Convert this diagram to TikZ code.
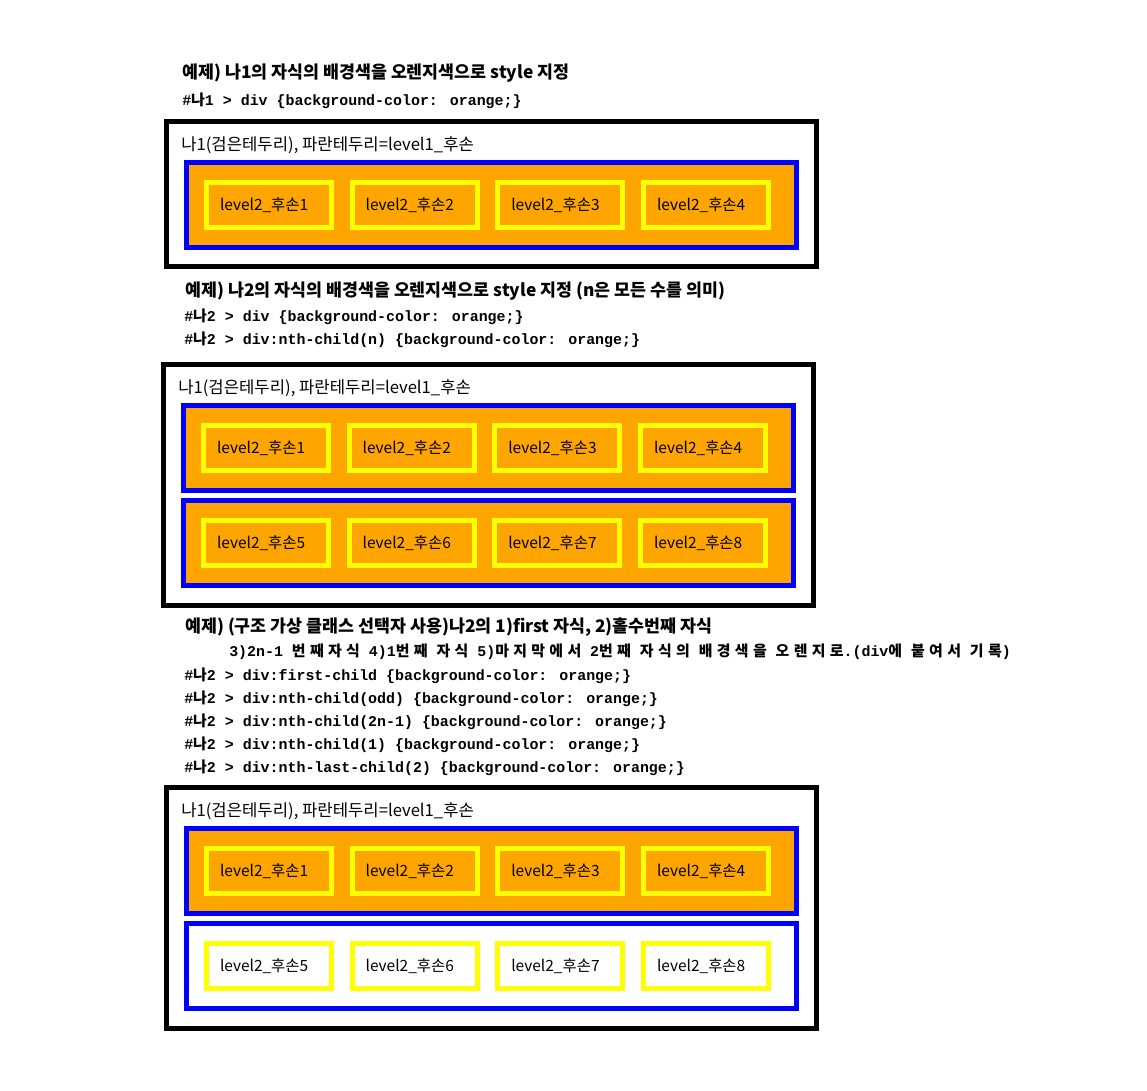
\documentclass[tikz,border=0pt]{standalone}
\usepackage{fontspec}
\setmainfont{Noto Sans CJK KR}
\newfontfamily\codefont{Liberation Mono}
\newfontfamily\kofont{Noto Sans CJK KR}
\newfontfamily\kowide{Noto Sans CJK KR}[LetterSpace=29]
\newcommand\ko[1]{{\kofont #1}}
\newcommand\kw[1]{{\kowide #1}}
\definecolor{cssorange}{HTML}{FFA500}
\definecolor{cssyellow}{HTML}{FFFF00}
\definecolor{cssblue}{HTML}{0000FF}
\tikzset{
  frame/.style={draw=black, line width=3.75pt},
  lvone/.style={draw=cssblue, line width=3.75pt},
  leaf/.style={draw=cssyellow, line width=3.75pt, outer sep=0pt, anchor=north west,
    minimum width=93.75pt, minimum height=33.75pt, text width=73.5pt, inner xsep=10.125pt,
    inner ysep=0pt, align=left, font=\fontsize{11.6}{14}\selectfont},
  caption/.style={anchor=west, inner sep=0pt, font=\fontsize{12.5}{14}\selectfont},
  headline/.style={anchor=west, inner sep=0pt, font=\bfseries\fontsize{13}{15}\selectfont},
  codeline/.style={anchor=west, inner sep=0pt, font=\codefont\bfseries\fontsize{11.2}{13}\selectfont}
}
\begin{document}
\begin{tikzpicture}[x=0.75pt,y=-0.75pt]
\useasboundingbox (0,0) rectangle (1147,1091);

% example 1
\node[headline] (head1) at (182,73) {예제) 나1의 자식의 배경색을 오렌지색으로 style 지정};
\node[codeline] (code1) at (182,101) {\#\ko{나}1 > div \{background-color: orange;\}};

\begin{scope}[shift={(164,119)}]
\draw[frame] (2.5,2.5) rectangle (652.5,147.5);
\node[caption] (cap1) at (17,26) {나1(검은테두리), 파란테두리=level1\_후손};
\draw[lvone, fill=cssorange] (22.5,43.5) rectangle (632.5,128.5);
\foreach \k in {1,...,4}
  \node[leaf, fill=cssorange] (one\k) at ({42.5+(\k-1)*145.67},63.5) {level2\_후손\k};
\end{scope}

% example 2
\node[headline] (head2) at (185,291) {예제) 나2의 자식의 배경색을 오렌지색으로 style 지정 (n은 모든 수를 의미)};
\node[codeline] (code2a) at (184,317) {\#\ko{나}2 > div \{background-color: orange;\}};
\node[codeline] (code2b) at (184,340) {\#\ko{나}2 > div:nth-child(n) \{background-color: orange;\}};

\begin{scope}[shift={(161,362)}]
\draw[frame] (2.5,2.5) rectangle (652.5,243.5);
\node[caption] (cap2) at (17,26) {나1(검은테두리), 파란테두리=level1\_후손};
\draw[lvone, fill=cssorange] (22.5,43.5) rectangle (632.5,128.5);
\draw[lvone, fill=cssorange] (22.5,138.5) rectangle (632.5,223.5);
\foreach \k in {1,...,4}
  \node[leaf, fill=cssorange] (two\k) at ({42.5+(\k-1)*145.67},63.5) {level2\_후손\k};
\foreach \k [evaluate=\k as \n using int(\k+4)] in {1,...,4}
  \node[leaf, fill=cssorange] (two\n) at ({42.5+(\k-1)*145.67},158.5) {level2\_후손\n};
\end{scope}

% example 3
\node[headline] (head3a) at (185,627) {예제) (구조 가상 클래스 선택자 사용)나2의 1)first 자식, 2)홀수번째 자식};
\node[codeline] (head3b) at (229,652) {3)2n-1 \kw{번째자식} 4)1\kw{번째} \kw{자식} 5)\kw{마지막에서} 2\kw{번째} \kw{자식의} \kw{배경색을} \kw{오렌지로}.(div\kw{에} \kw{붙여서} \kw{기록})};
\node[codeline] (code3a) at (184,676) {\#\ko{나}2 > div:first-child \{background-color: orange;\}};
\node[codeline] (code3b) at (184,699) {\#\ko{나}2 > div:nth-child(odd) \{background-color: orange;\}};
\node[codeline] (code3c) at (184,722) {\#\ko{나}2 > div:nth-child(2n-1) \{background-color: orange;\}};
\node[codeline] (code3d) at (184,745) {\#\ko{나}2 > div:nth-child(1) \{background-color: orange;\}};
\node[codeline] (code3e) at (184,768) {\#\ko{나}2 > div:nth-last-child(2) \{background-color: orange;\}};

\begin{scope}[shift={(164,785)}]
\draw[frame] (2.5,2.5) rectangle (652.5,243.5);
\node[caption] (cap3) at (17,26) {나1(검은테두리), 파란테두리=level1\_후손};
\draw[lvone, fill=cssorange] (22.5,43.5) rectangle (632.5,128.5);
\draw[lvone, fill=white] (22.5,138.5) rectangle (632.5,223.5);
\foreach \k in {1,...,4}
  \node[leaf, fill=cssorange] (three\k) at ({42.5+(\k-1)*145.67},63.5) {level2\_후손\k};
\foreach \k [evaluate=\k as \n using int(\k+4)] in {1,...,4}
  \node[leaf, fill=white] (three\n) at ({42.5+(\k-1)*145.67},158.5) {level2\_후손\n};
\end{scope}
\end{tikzpicture}
\end{document}
